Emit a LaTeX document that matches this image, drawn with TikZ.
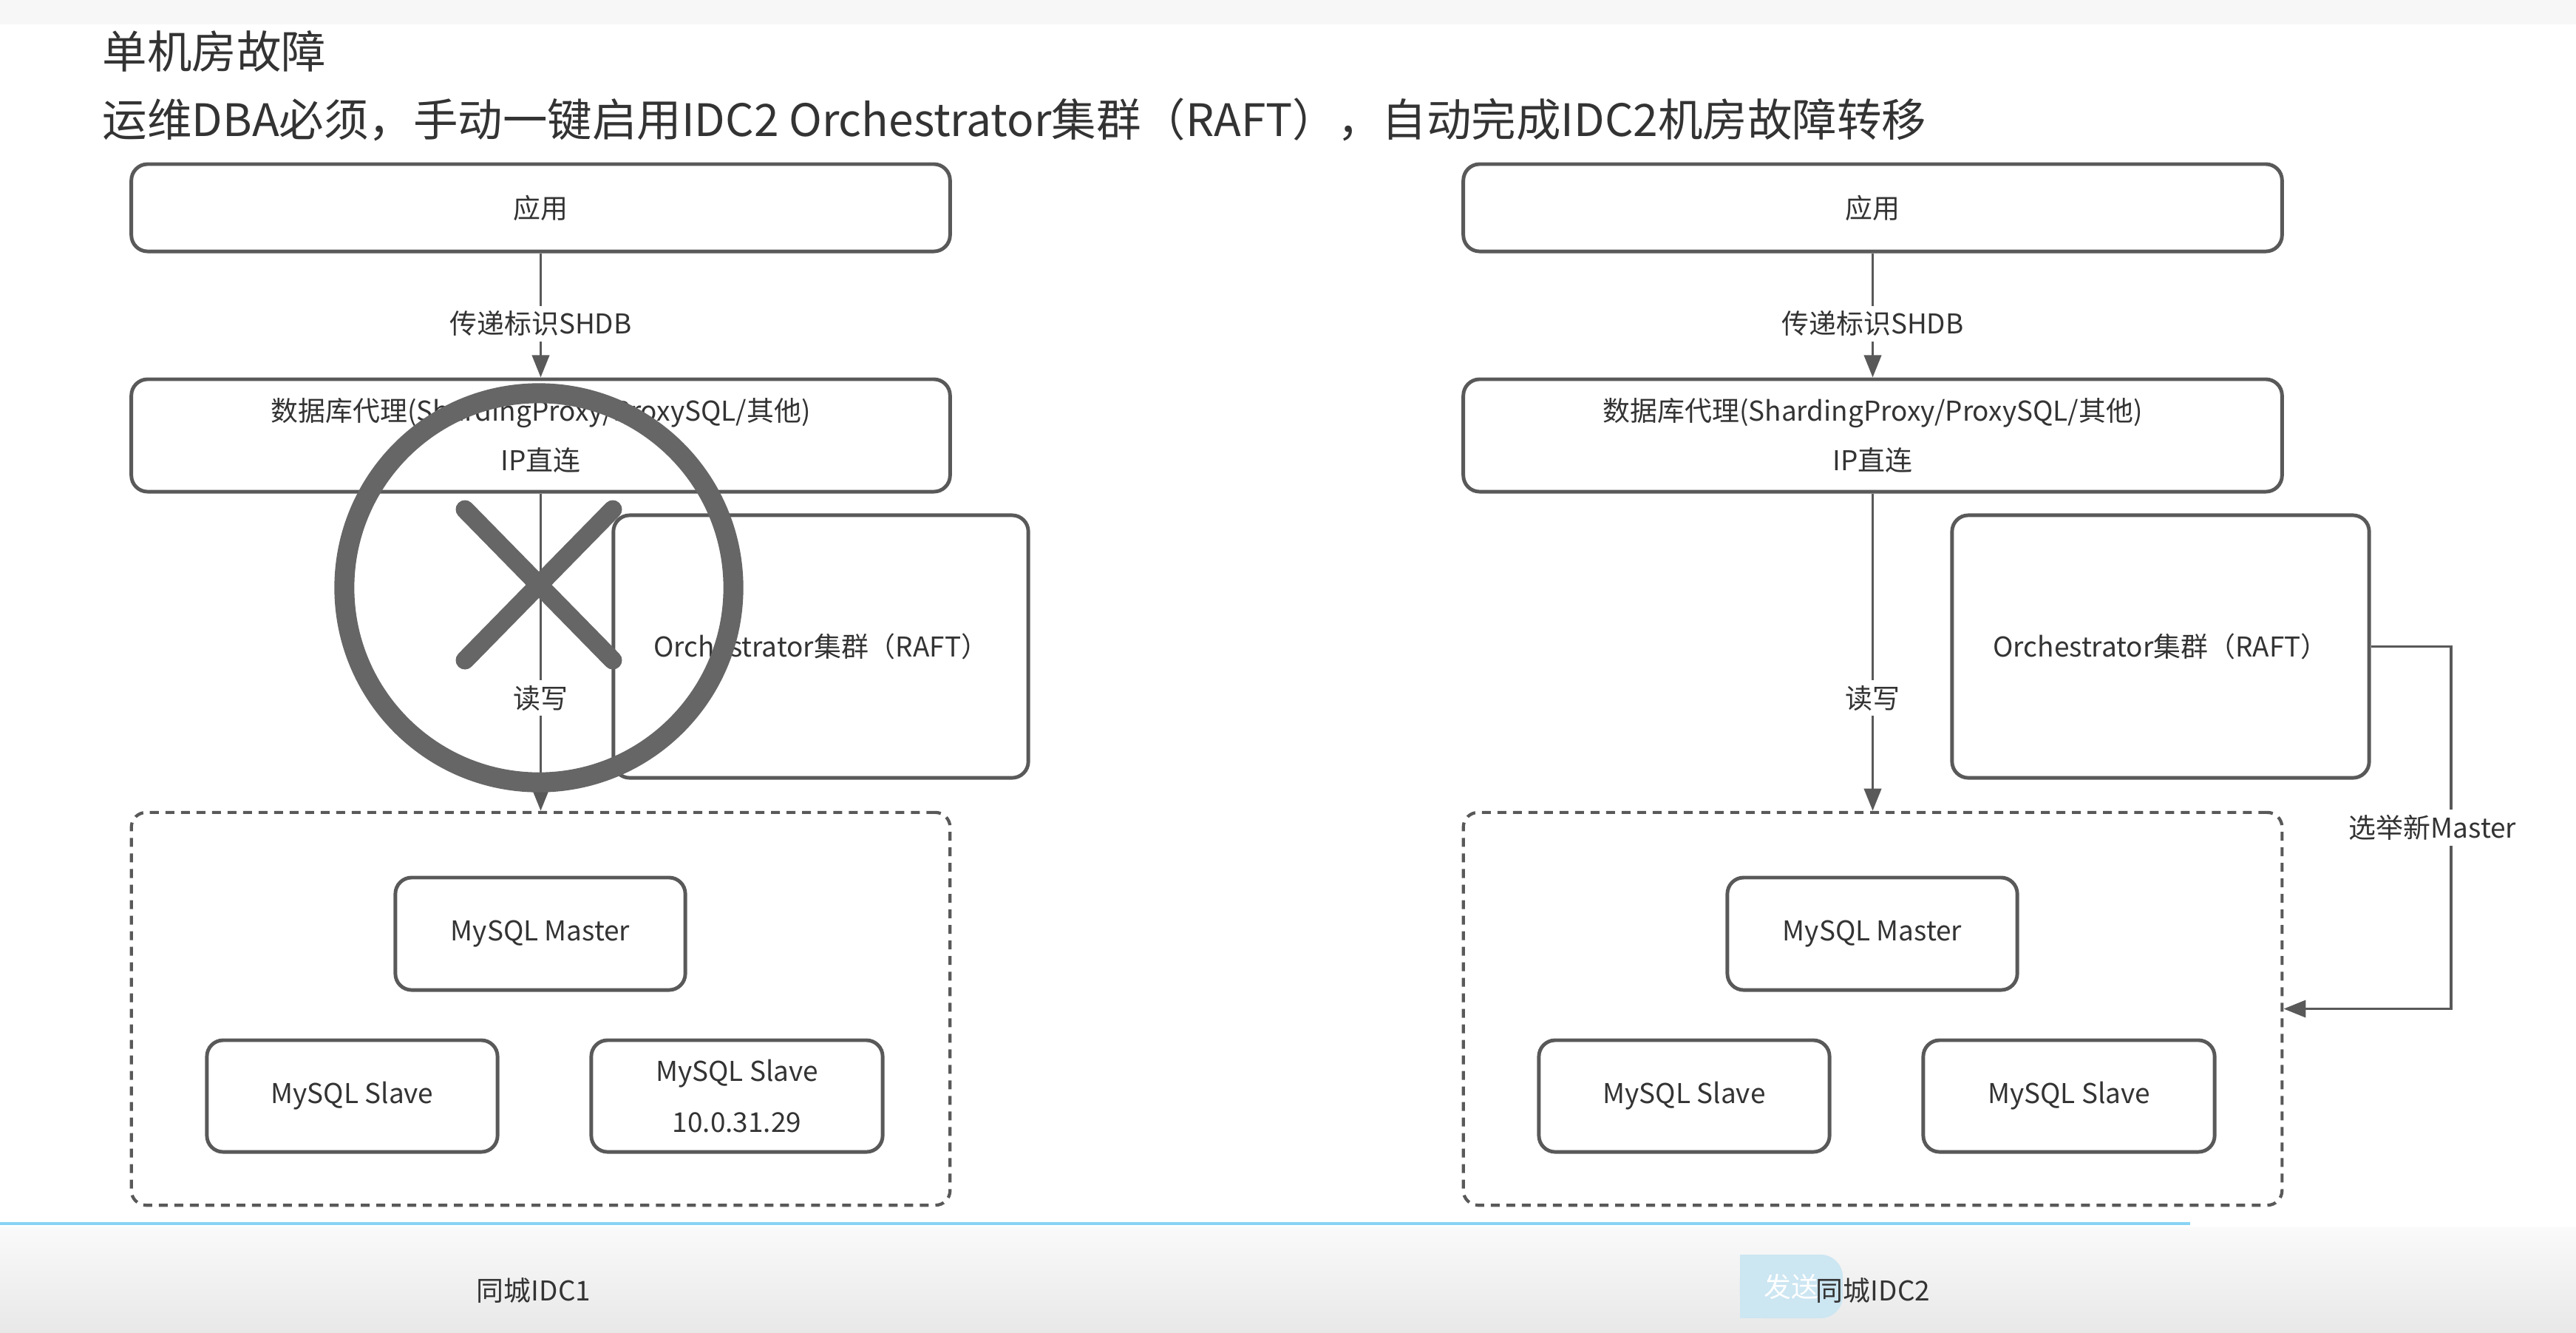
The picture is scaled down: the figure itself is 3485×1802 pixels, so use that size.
\documentclass[tikz,border=0pt]{standalone}
\usepackage{fontspec}
\setmainfont{Noto Sans CJK SC}
\usetikzlibrary{arrows.meta, positioning}
\definecolor{linegray}{RGB}{89,89,89}
\definecolor{textgray}{RGB}{51,51,51}
\definecolor{failgray}{RGB}{102,102,102}
\definecolor{barblue}{RGB}{135,211,245}
\definecolor{btnblue}{RGB}{204,230,242}

\begin{document}
\begin{tikzpicture}[x=0.01cm, y=-0.01cm,
    every node/.style={font=\fontsize{10.5}{18.8}\selectfont, text=textgray},
    box/.style={draw=linegray, line width=1.4pt, rounded corners=0.22cm, align=center, inner sep=0pt},
    group/.style={draw=linegray, line width=1.2pt, dash pattern=on 0.12cm off 0.09cm, rounded corners=0.2cm, inner sep=0pt},
    flow/.style={draw=linegray, line width=1.1pt, -{Triangle[length=0.3cm,width=0.23cm]}},
    tag/.style={fill=white, inner sep=2pt},
    heading/.style={anchor=west, inner sep=0pt, font=\fontsize{17.2}{20}\selectfont}]
    \useasboundingbox (0,0) rectangle (3485,1802);
    % screen background
    \fill[white!97!black] (0,0) rectangle (3485,33);
    \shade[top color=white!98!black, bottom color=white!91!black] (0,1660) rectangle (3485,1802);
    \draw[barblue, line width=1.15pt] (0,1655) -- (2963,1655);

    % title
    \node[heading] (title) at (138,69) {单机房故障};
    \node[heading] (subtitle) at (138,162) {运维DBA必须，手动一键启用IDC2 Orchestrator集群（RAFT），自动完成IDC2机房故障转移};

    % IDC1
    \node[box, minimum width=11.07cm, minimum height=1.18cm] (app1) at (731.5,281) {应用};
    \node[box, minimum width=11.07cm, minimum height=1.52cm] (proxy1) at (731.5,589) {数据库代理(ShardingProxy/ProxySQL/其他)\\IP直连};
    \node[box, minimum width=5.61cm, minimum height=3.55cm] (orch1) at (1110.5,874.5) {Orchestrator集群（RAFT）};
    \node[group, minimum width=11.07cm, minimum height=5.31cm] (db1) at (731.5,1364.5) {};
    \node[box, minimum width=3.92cm, minimum height=1.52cm] (master1) at (731,1263) {MySQL Master};
    \node[box, minimum width=3.93cm, minimum height=1.51cm] (slaveA1) at (476.5,1482.5) {MySQL Slave};
    \node[box, minimum width=3.94cm, minimum height=1.51cm] (slaveB1) at (997,1482.5) {MySQL Slave\\[0.8pt]10.0.31.29};
    \draw[flow] (app1) -- node[tag, pos=0.566] {传递标识SHDB} (proxy1);
    \draw[flow] (proxy1) -- node[tag, pos=0.645] {读写} (db1);
    % IDC1 down
    \draw[failgray, line width=0.27cm] (729,795) circle[radius=2.63cm];
    \draw[failgray, line width=0.25cm, line cap=round] (629,689) -- (829,893) (829,689) -- (629,893);

    % IDC2
    \node[box, minimum width=11.07cm, minimum height=1.18cm] (app2) at (2533.5,281) {应用};
    \node[box, minimum width=11.07cm, minimum height=1.52cm] (proxy2) at (2533.5,589) {数据库代理(ShardingProxy/ProxySQL/其他)\\IP直连};
    \node[box, minimum width=5.64cm, minimum height=3.55cm] (orch2) at (2923,874.5) {Orchestrator集群（RAFT）};
    \node[group, minimum width=11.07cm, minimum height=5.31cm] (db2) at (2533.5,1364.5) {};
    \node[box, minimum width=3.92cm, minimum height=1.52cm] (master2) at (2533,1263) {MySQL Master};
    \node[box, minimum width=3.93cm, minimum height=1.51cm] (slaveA2) at (2278.5,1482.5) {MySQL Slave};
    \node[box, minimum width=3.94cm, minimum height=1.51cm] (slaveB2) at (2799,1482.5) {MySQL Slave};
    \draw[flow] (app2) -- node[tag, pos=0.566] {传递标识SHDB} (proxy2);
    \draw[flow] (proxy2) -- node[tag, pos=0.645] {读写} (db2);
    \coordinate (elect) at (3316,1364.5);
    \draw[flow] (orch2.east) -| node[tag, pos=0.75, xshift=-0.25cm] {选举新Master} (elect) -- (db2.east);

    % bottom bar
    \fill[btnblue] (2354,1697) rectangle (2440,1783);
    \node[fill=btnblue, rounded corners=0.3cm, minimum width=1.39cm, minimum height=0.86cm, text=white] (send) at (2423.5,1740) {发送};
    \node (idc1) at (722,1745) {同城IDC1};
    \node (idc2) at (2534,1745) {同城IDC2};
\end{tikzpicture}
\end{document}
